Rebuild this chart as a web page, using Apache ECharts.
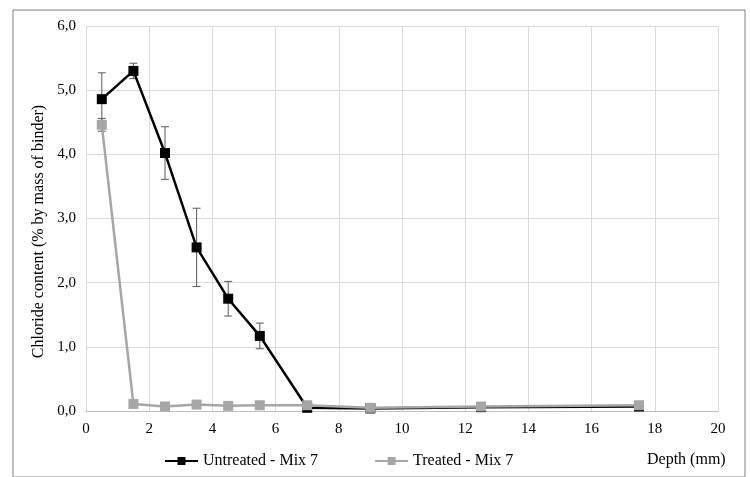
<!DOCTYPE html>
<html>
<head>
<meta charset="utf-8">
<script src="https://cdn.jsdelivr.net/npm/echarts@6/dist/echarts.min.js"></script>
<style>
  html, body { margin: 0; padding: 0; background: #fff; }
  #chart { width: 750px; height: 477px; }
</style>
</head>
<body>
<div id="chart"></div>
<script>
// depth (mm)
var depth = [0.5, 1.5, 2.5, 3.5, 4.5, 5.5, 7, 9, 12.5, 17.5];
// chloride content, % by mass of binder
var untreated = [4.86, 5.30, 4.02, 2.55, 1.75, 1.17, 0.05, 0.04, 0.06, 0.07];
var untreatedErr = [0.41, 0.12, 0.41, 0.61, 0.27, 0.20, 0, 0, 0, 0];
var treated = [4.46, 0.11, 0.07, 0.10, 0.08, 0.09, 0.09, 0.05, 0.07, 0.09];
var treatedErr = [0.10, 0, 0, 0, 0, 0, 0, 0, 0, 0];

function pairs(ys) {
    return depth.map(function (x, i) { return [x, ys[i]]; });
}
function bars(ys, errs) {
    var out = [];
    depth.forEach(function (x, i) {
        if (errs[i] > 0) out.push([x, ys[i] - errs[i], ys[i] + errs[i]]);
    });
    return out;
}
// error bar with caps
function drawBar(params, api) {
    var lo = api.coord([api.value(0), api.value(1)]);
    var hi = api.coord([api.value(0), api.value(2)]);
    var w = 4;
    var st = { stroke: '#595959', lineWidth: 1 };
    return {
        type: 'group',
        children: [
            { type: 'line', shape: { x1: lo[0], y1: lo[1], x2: hi[0], y2: hi[1] }, style: st },
            { type: 'line', shape: { x1: lo[0] - w, y1: lo[1], x2: lo[0] + w, y2: lo[1] }, style: st },
            { type: 'line', shape: { x1: hi[0] - w, y1: hi[1], x2: hi[0] + w, y2: hi[1] }, style: st }
        ]
    };
}

var chart = echarts.init(document.getElementById('chart'));
var font = 'Liberation Serif, Times New Roman, serif';

var option = {
    animation: false,
    textStyle: { fontFamily: font },
    graphic: [
        {
            type: 'rect', left: 10.5, top: 7.5,
            shape: { width: 732, height: 467 },
            style: { fill: 'none', stroke: '#7f7f7f', lineWidth: 1 }
        },
        {
            type: 'text', left: 647, top: 452,
            style: { text: 'Depth (mm)', font: '16px ' + font, fill: '#000' }
        }
    ],
    grid: { left: 86, right: 32, top: 26, bottom: 66 },
    legend: {
        top: 448, left: 159,
        itemWidth: 33, itemHeight: 10, itemGap: 56,
        textStyle: { fontSize: 16, color: '#000', fontFamily: font },
        data: ['Untreated - Mix 7', 'Treated - Mix 7']
    },
    xAxis: {
        type: 'value', min: 0, max: 20, interval: 2,
        axisLine: { lineStyle: { color: '#bfbfbf' } },
        axisTick: { show: false },
        axisLabel: { color: '#000', fontSize: 15, margin: 11 },
        splitLine: { lineStyle: { color: '#d9d9d9' } }
    },
    yAxis: {
        type: 'value', min: 0, max: 6, interval: 1,
        name: 'Chloride content (% by mass of binder)',
        nameLocation: 'middle', nameGap: 38,
        nameTextStyle: { color: '#000', fontSize: 16, padding: [0, 26, 0, 0] },
        axisLine: { show: false },
        axisTick: { show: false },
        axisLabel: {
            color: '#000', fontSize: 15, margin: 10,
            formatter: function (v) { return v.toFixed(1).replace('.', ','); }
        },
        splitLine: { lineStyle: { color: '#d9d9d9' } }
    },
    series: [
        {
            type: 'custom', renderItem: drawBar,
            data: bars(untreated, untreatedErr), z: 2, silent: true
        },
        {
            name: 'Untreated - Mix 7', type: 'line', data: pairs(untreated),
            symbol: 'rect', symbolSize: 10, z: 3,
            lineStyle: { color: '#000', width: 2.5 },
            itemStyle: { color: '#000' }
        },
        {
            type: 'custom', renderItem: drawBar,
            data: bars(treated, treatedErr), z: 4, silent: true
        },
        {
            name: 'Treated - Mix 7', type: 'line', data: pairs(treated),
            symbol: 'rect', symbolSize: 10, z: 5,
            lineStyle: { color: '#a6a6a6', width: 2.5 },
            itemStyle: { color: '#a6a6a6' }
        }
    ]
};
chart.setOption(option);
</script>
</body>
</html>
